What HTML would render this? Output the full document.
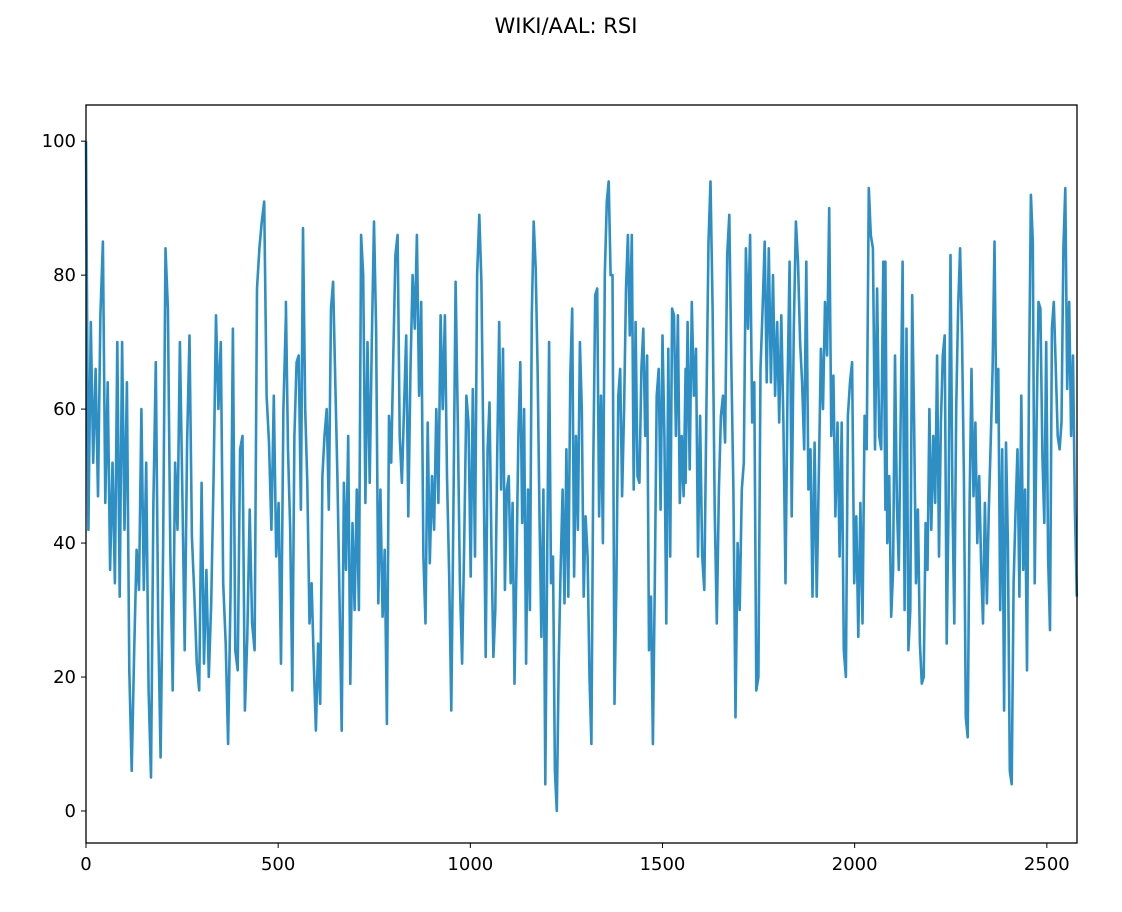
<!DOCTYPE html>
<html><head><meta charset="utf-8"><style>
body{margin:0;background:#fff;}
svg{display:block;font-family:"DejaVu Sans","Liberation Sans",sans-serif;}
</style></head><body>
<svg id="chart" width="1122" height="912">
<text x="566" y="33" text-anchor="middle" font-size="21" fill="#000">WIKI/AAL: RSI</text>
<g id="plot"></g>
<rect x="86" y="105" width="991" height="738" fill="none" stroke="#000" stroke-width="1.3"/>
<g id="axes"></g>
</svg>
<script>
// RSI values, grouped in chunks of the index range
const chunkStarts = [0,520,1040,1560,2080];
const chunkEnds = [520,1040,1560,2080,2578];
const chunk1 = [100,42,73,52,66,47,74,85,46,64,36,52,34,70,32,70,42,64,21,6,24,39,33,60,33,52,18,5,46,67,28,8,39,84,75,39,18,52,42,70,48,24,55,71,41,32,22,18,49,22,36,20,31,50,74,60,70,34,25,10,32,72,24,21,54,56,15,26,45,28,24,78,84,88,91,62,55,42,62,38,46,22,60,74];
const chunk2 = [76,54,42,18,56,67,68,45,87,60,49,28,34,22,12,25,16,50,56,60,45,75,79,64,50,31,12,49,36,56,19,43,30,48,30,86,80,46,70,49,70,88,72,31,48,29,39,13,59,52,68,83,86,56,49,60,71,44,66,80,72,86,62,76,38,28,58,37,50,42,60,46,74,60,74,50,35,15,46,79,58,34,22,40,62,58,35,63,38,80,89,79,51,23];
const chunk3 = [23,54,61,39,23,30,53,73,48,69,33,48,50,34,46,19,37,56,67,43,60,22,48,30,74,88,81,66,44,26,48,4,38,70,34,38,6,0,22,36,48,31,54,32,65,75,35,56,42,70,60,32,44,38,20,10,52,77,78,44,62,40,80,91,94,80,80,16,34,62,66,47,60,78,86,71,86,48,73,50,49,66,72,56,68,24,32,10,34,62,66,45,71,56,28,69,38,75,74,56,74,46,56,47,66];
const chunk4 = [49,73,51,76,62,69,38,59,38,33,60,85,94,75,45,28,48,59,62,55,83,89,66,48,14,40,30,48,52,84,72,86,58,64,18,20,66,75,85,64,84,64,80,62,73,58,74,58,34,64,82,44,72,88,82,70,64,54,82,48,54,32,55,32,50,69,60,76,68,90,56,65,44,58,38,58,24,20,59,64,67,34,44,26,46,28,59,54,93,86,84,54,78,56,54,82,45];
const chunk5 = [82,40,50,29,36,68,46,36,59,82,30,72,24,30,77,58,34,45,25,19,20,43,36,60,42,56,46,68,38,58,68,71,25,46,83,47,28,60,75,84,71,50,14,11,46,66,47,58,40,50,37,28,46,31,45,55,66,85,58,66,30,54,15,55,40,6,4,34,45,54,32,62,36,48,21,64,92,85,34,58,76,75,53,43,70,38,27,72,76,66,56,54,58,84,93,63,76,56,68,45,32];
const chunks = [chunk1,chunk2,chunk3,chunk4,chunk5];
const xTicks = [0,500,1000,1500,2000,2500];
const yTicks = [0,20,40,60,80,100];

const L=86,R=1077,T=105,B=843, xMin=0,xMax=2578.5,yMin=-4.78,yMax=105.4;
const sx=v=>L+(v-xMin)/(xMax-xMin)*(R-L);
const sy=v=>B-(v-yMin)/(yMax-yMin)*(B-T);
const NS="http://www.w3.org/2000/svg";
const plot=document.getElementById('plot'), axes=document.getElementById('axes');

let pts=[];
chunks.forEach((c,ci)=>{
  const a=chunkStarts[ci], b=chunkEnds[ci];
  c.forEach((v,i)=>pts.push([a+(b-a)*i/(c.length-1),v]));
});
const line=document.createElementNS(NS,'polyline');
line.setAttribute('points',pts.map(p=>sx(p[0]).toFixed(1)+','+sy(p[1]).toFixed(1)).join(' '));
line.setAttribute('fill','none');line.setAttribute('stroke','#2e8fc4');
line.setAttribute('stroke-width','2.6');line.setAttribute('stroke-linejoin','round');


plot.appendChild(line);

xTicks.forEach(t=>{
  const x=sx(t);
  const l=document.createElementNS(NS,'line');
  l.setAttribute('x1',x);l.setAttribute('x2',x);l.setAttribute('y1',B);l.setAttribute('y2',B+5);l.setAttribute('stroke','#000');
  
  
  axes.appendChild(l);
  const tx=document.createElementNS(NS,'text');
  tx.setAttribute('x',x);tx.setAttribute('y',B+27);tx.setAttribute('text-anchor','middle');tx.setAttribute('font-size','18');
  tx.textContent=t;
  
  
  axes.appendChild(tx);
});
yTicks.forEach(t=>{
  const y=sy(t);
  const l=document.createElementNS(NS,'line');
  l.setAttribute('x1',L-5);l.setAttribute('x2',L);l.setAttribute('y1',y);l.setAttribute('y2',y);l.setAttribute('stroke','#000');
  
  
  axes.appendChild(l);
  const tx=document.createElementNS(NS,'text');
  tx.setAttribute('x',L-10);tx.setAttribute('y',y+6);tx.setAttribute('text-anchor','end');tx.setAttribute('font-size','18');
  tx.textContent=t;
  
  
  axes.appendChild(tx);
});
</script>
</body></html>
